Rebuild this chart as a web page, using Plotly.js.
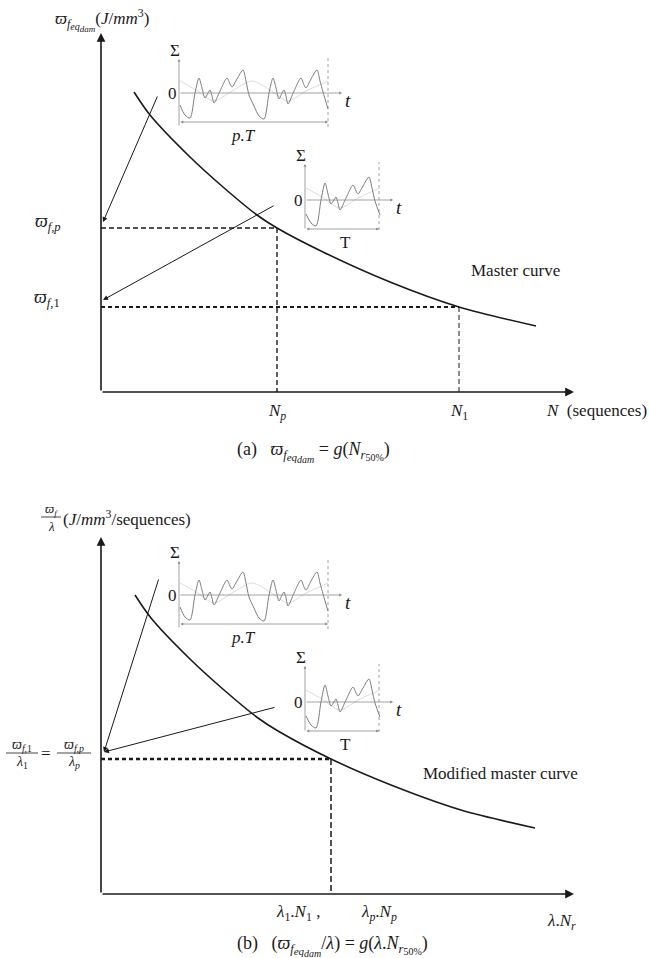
<!DOCTYPE html>
<html>
<head>
<meta charset="utf-8">
<script src="https://cdn.plot.ly/plotly-3.0.1.min.js"></script>
<style>
body { margin: 0; background: #fff; }
#plot { width: 649px; height: 958px; }
</style>
</head>
<body>
<div id="plot"></div>
<script>
// master curve (a) and modified master curve (b)
var masterN = [33, 49, 89, 122, 156, 176, 222, 289, 358, 435];
var masterW = [300, 277, 235, 205, 177, 164, 140, 110, 85, 66];
var modN = [34, 50, 90, 123, 157, 177, 230, 290, 360, 434];
var modW = [299, 276, 234, 204, 176, 163, 135, 109, 84, 66];

var Np = 176, wfp = 164, N1 = 358, wf1 = 85;
var lamN = 230, wfLam = 135;

// signal over p.T (p = 2) and over one period T
var sigPT_t = [0, 5, 10, 15, 19, 22, 25, 28, 30, 32, 34, 40, 47, 50, 52, 57, 63, 66, 69,
               74, 79, 84, 89, 93, 96, 99, 102, 104, 106, 108, 114, 121, 124, 126, 131, 137, 140, 143, 148];
var sigPT_v = [-12, -22, -25, 0, 15, 5, -5, 0, 3, -3, -10, 2, 15, 9, 6, 14, 23, 12, -2,
               -13, -23, -26, 0, 15, 5, -6, 0, 3, -3, -11, 2, 15, 8, 5, 14, 23, 12, 1, -16];
var sigT_t = [0, 5, 10, 15, 19, 22, 25, 28, 30, 32, 34, 40, 47, 50, 52, 57, 63, 66, 69, 74];
var sigT_v = [-14, -23, -26, 0, 17, 6, -4, 0, 3, -3, -10, 2, 15, 9, 6, 14, 23, 12, -1, -15];
var faintPT_t = [0, 16, 34, 52, 72, 90, 108, 126, 148];
var faintPT_v = [12, 3, -8, 2, 12, 3, -8, 2, 12];
var faintT_t = [0, 16, 34, 52, 74];
var faintT_v = [12, 3, -8, 2, 12];

var FONT = 'Liberation Serif, serif';
var INK = '#1a1a1a';
var GREY = '#8a8a8a';

var traces = [];
var annotations = [];
var shapes = [];

function addLine(xa, ya, xs, ys, color, width, dash, shape) {
    traces.push({
        x: xs, y: ys, xaxis: xa, yaxis: ya,
        type: 'scatter', mode: 'lines', hoverinfo: 'skip',
        line: { color: color, width: width, dash: dash || 'solid', shape: shape || 'linear', smoothing: 0.8 }
    });
}

function addText(xa, ya, x, y, txt, size, anchor, color) {
    annotations.push({
        xref: xa, yref: ya, x: x, y: y, text: txt, showarrow: false,
        xanchor: anchor || 'center', yanchor: 'middle',
        font: { family: FONT, size: size || 17, color: color || INK }
    });
}

function addArrow(xa, ya, x0, y0, x1, y1, color, width, size, side) {
    annotations.push({
        xref: xa, yref: ya, axref: xa, ayref: ya,
        x: x1, y: y1, ax: x0, ay: y0, text: '',
        showarrow: true, arrowhead: 2, arrowsize: size, arrowwidth: width,
        arrowcolor: color, arrowside: side || 'end', standoff: 0, startstandoff: 0
    });
}

function shift(arr, d) {
    return arr.map(function (v) { return v + d; });
}

// subscript f_{eq_{dam}} : nested subs, sizes kept readable
function feq(s1, s2) {
    return '<i>ϖ</i><sub><i>f</i><sub><span style="font-size:' + s1 + 'px"><i>eq</i></span>' +
           '<sub><span style="font-size:' + s2 + 'px"><i>dam</i></span></sub></sub></sub>';
}
var NR50 = '<i>N</i><sub><i>r</i><sub><span style="font-size:10px">50%</span></sub></sub>';

function addInset(xa, ya, ox, oy, right, axBot, axTop, tEnd, dimY, t, v, ft, fv, periodLabel, periodAt) {
    addArrow(xa, ya, ox, axBot, ox, axTop, GREY, 0.8, 0.7);
    addArrow(xa, ya, ox, oy, tEnd, oy, GREY, 0.8, 0.7);
    addLine(xa, ya, [right, right], [axBot, axTop + 2], GREY, 0.8, 'dot');
    addLine(xa, ya, shift(ft, ox + 1), shift(fv, oy), '#dcdcdc', 1, 'solid', 'spline');
    addLine(xa, ya, shift(t, ox + 1), shift(v, oy), '#7d7d7d', 1, 'solid', 'spline');
    addArrow(xa, ya, ox, dimY, right, dimY, GREY, 0.8, 0.7, 'end+start');
    addText(xa, ya, ox - 4, axTop + 9, 'Σ', 17);
    addText(xa, ya, ox - 7, oy, '0', 17);
    addText(xa, ya, tEnd + 6, oy - 7, '<i>t</i>', 19);
    addText(xa, ya, periodAt, dimY - 13, periodLabel, 17);
}

function addPanel(n, curveX, curveY, yTip) {
    var xa = n === 1 ? 'x' : 'x2';
    var ya = n === 1 ? 'y' : 'y2';
    // axes with arrow heads
    addArrow(xa, ya, 0, 0, 0, yTip, INK, 1.6, 1.1);
    addArrow(xa, ya, 0, 0, 473, 0, INK, 1.6, 1.1);
    addLine(xa, ya, curveX, curveY, INK, 1.6, 'solid', 'spline');
    addInset(xa, ya, 78, 299, 227, 265, 333, 241, 270, sigPT_t, sigPT_v, faintPT_t, faintPT_v, '<i>p.T</i>', 142);
    addInset(xa, ya, 204, 192, 278, 162, 228, 292, 163, sigT_t, sigT_v, faintT_t, faintT_v, 'T', 244);
}

// (a) master curve
addPanel(1, masterN, masterW, 359);
addLine('x', 'y', [0, Np], [wfp, wfp], INK, 1.4, '5px,3px');
addLine('x', 'y', [Np, Np], [wfp, 0], INK, 1.4, '5px,3px');
addLine('x', 'y', [0, N1], [wf1, wf1], INK, 2, '4px,3px');
addLine('x', 'y', [N1, N1], [wf1, 0], INK, 1, '5px,3px');
addArrow('x', 'y', 57, 297, 2, 170, INK, 1, 1);
addArrow('x', 'y', 174, 187, 2, 92, INK, 1, 1);
addText('x', 'y', 1, 372, feq(10, 9) + '(<i>J</i>/<i>mm</i><sup>3</sup>)', 17);
addText('x', 'y', -53, 170, '<i>ϖ</i><sub><i>f,p</i></sub>', 18);
addText('x', 'y', -54, 94, '<i>ϖ</i><sub><i>f,</i>1</sub>', 18);
addText('x', 'y', 414, 122, 'Master curve', 17);
addText('x', 'y', Np, -20, '<i>N<sub>p</sub></i>', 17);
addText('x', 'y', N1, -20, '<i>N</i><sub>1</sub>', 17);
addText('x', 'y', 495, -18, '<i>N</i>  (sequences)', 17);
addText('x', 'y', 212, -60, '(a)   ' + feq(11, 10) + ' = <i>g</i>(' + NR50 + ')', 18);

// (b) modified master curve
addPanel(2, modN, modW, 357);
addLine('x2', 'y2', [0, lamN], [wfLam, wfLam], INK, 2.4, '4px,3px');
addLine('x2', 'y2', [lamN, lamN], [wfLam, 0], INK, 1.5, '6px,3px');
addArrow('x2', 'y2', 58, 316, 3, 142, INK, 1, 1);
addArrow('x2', 'y2', 175, 187, 3, 142, INK, 1, 1);
addText('x2', 'y2', -50, 385, '<i>ϖ<sub>f</sub></i>', 13);
addText('x2', 'y2', -50, 368, '<i>λ</i>', 13);
addText('x2', 'y2', -40, 376, '(<i>J</i>/<i>mm</i><sup>3</sup>/sequences)', 17, 'left');
addText('x2', 'y2', -79, 149, '<i>ϖ<sub>f,</sub></i><sub>1</sub>', 14);
addText('x2', 'y2', -79, 132, '<i>λ</i><sub>1</sub>', 14);
addText('x2', 'y2', -55, 141, '=', 17);
addText('x2', 'y2', -27, 149, '<i>ϖ<sub>f,p</sub></i>', 14);
addText('x2', 'y2', -27, 132, '<i>λ<sub>p</sub></i>', 14);
addText('x2', 'y2', 399, 121, 'Modified master curve', 17);
addText('x2', 'y2', 197, -19, '<i>λ</i><sub>1</sub>.<i>N</i><sub>1</sub> ,', 17);
addText('x2', 'y2', 278, -19, '<i>λ<sub>p</sub></i>.<i>N<sub>p</sub></i>', 17);
addText('x2', 'y2', 460, -28, '<i>λ</i>.<i>N<sub>r</sub></i>', 17);
addText('x2', 'y2', 231, -52, '(b)   (' + feq(11, 10) + '/<i>λ</i>) = <i>g</i>(<i>λ</i>.' + NR50 + ')', 18);

// fraction bars
shapes.push({ type: 'line', xref: 'x2', yref: 'y2', x0: -60, x1: -40, y0: 377, y1: 377, line: { color: INK, width: 0.8 } });
shapes.push({ type: 'line', xref: 'x2', yref: 'y2', x0: -95, x1: -63, y0: 141, y1: 141, line: { color: INK, width: 0.8 } });
shapes.push({ type: 'line', xref: 'x2', yref: 'y2', x0: -44, x1: -10, y0: 141, y1: 141, line: { color: INK, width: 0.8 } });

var hidden = { visible: false, showgrid: false, zeroline: false, fixedrange: true };

var layout = {
    width: 649,
    height: 958,
    margin: { l: 0, r: 0, t: 0, b: 0 },
    paper_bgcolor: '#fff',
    plot_bgcolor: '#fff',
    showlegend: false,
    xaxis: Object.assign({ domain: [0, 1], range: [-101, 548], anchor: 'y' }, hidden),
    yaxis: Object.assign({ domain: [0.5, 1], range: [-87, 392], anchor: 'x' }, hidden),
    xaxis2: Object.assign({ domain: [0, 1], range: [-101, 548], anchor: 'y2' }, hidden),
    yaxis2: Object.assign({ domain: [0, 0.5], range: [-64, 415], anchor: 'x2' }, hidden),
    annotations: annotations,
    shapes: shapes
};

Plotly.newPlot('plot', traces, layout, { staticPlot: true });
</script>
</body>
</html>
